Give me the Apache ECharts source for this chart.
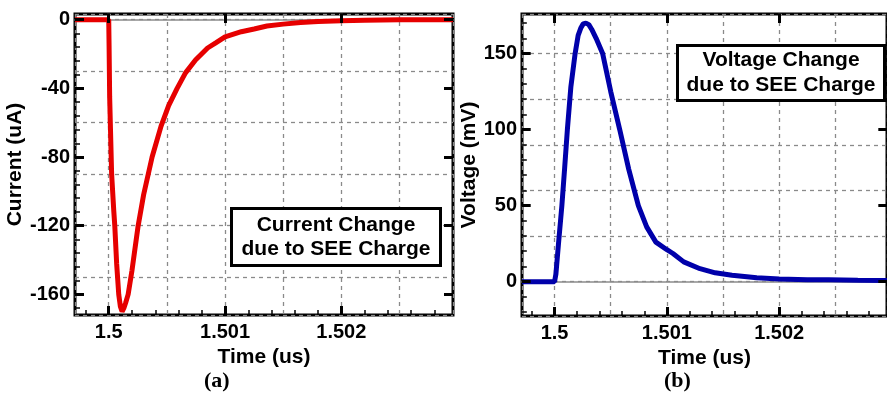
<!DOCTYPE html>
<html><head><meta charset="utf-8">
<script src="https://cdn.jsdelivr.net/npm/echarts@6/dist/echarts.min.js"></script>
<style>html,body{margin:0;padding:0;background:#fff}#c{width:887px;height:394px}</style>
</head><body><div id="c"></div>
<script>
// ---- data ----
const timeCurrent = [1.49971, 1.4999, 1.5, 1.500003, 1.500008, 1.500025, 1.500043, 1.500052, 1.500068, 1.500086, 1.5001, 1.500115, 1.50013, 1.500145, 1.500167, 1.5002, 1.500253, 1.5003, 1.500373, 1.50045, 1.500515, 1.500588, 1.50066, 1.500746, 1.50085, 1.50092, 1.501, 1.50114, 1.50125, 1.50136, 1.5015, 1.50165, 1.5018, 1.502, 1.5022, 1.5025, 1.5028, 1.50296];
const current = [0, 0, 0, -15, -45, -90, -111, -120, -142, -160, -167, -170, -168, -165, -160, -146, -120, -102, -80, -62, -50, -40, -31, -23.5, -16.5, -13.5, -10, -7, -5.4, -3.7, -2.6, -1.7, -1.1, -0.6, -0.3, -0.1, 0, 0];
const timeVoltage = [1.49971, 1.4999, 1.5, 1.500012, 1.500035, 1.500065, 1.50009, 1.500114, 1.500145, 1.500183, 1.50021, 1.500235, 1.500255, 1.500279, 1.500305, 1.50033, 1.50037, 1.500428, 1.5005, 1.50058, 1.50066, 1.500746, 1.50082, 1.500902, 1.501, 1.501054, 1.50115, 1.501295, 1.50143, 1.50158, 1.5018, 1.502, 1.50225, 1.50244, 1.5027, 1.50296];
const voltage = [0, 0, 0, 5, 25, 50, 75, 100, 128, 150, 162, 167, 169.5, 170, 169, 166, 160, 150, 125, 100, 74, 50, 36, 26, 21, 18.5, 13, 8.5, 5.8, 4.2, 2.6, 1.7, 1.3, 1.2, 0.9, 0.8];

const xMajorTicks = [1.5, 1.501, 1.502];
const xMinorTicks = [1.4998, 1.5002, 1.5004, 1.5006, 1.5008, 1.5012, 1.5014, 1.5016, 1.5018, 1.5022, 1.5024, 1.5026, 1.5028];
const currentTicks = [0, -40, -80, -120, -160];
const currentMinorTicks = [-8, -16, -24, -32, -48, -56, -64, -72, -88, -96, -104, -112, -128, -136, -144, -152, -168];
const voltageTicks = [0, 50, 100, 150];
const voltageMinorTicks = [-20, -10, 10, 20, 30, 40, 60, 70, 80, 90, 110, 120, 130, 140, 160, 170];

const xRange = [1.49971, 1.50296];
const currentRange = [-172, 3.3];
const voltageRange = [-22.6, 176];

const FONT = 'Liberation Sans';
const GRID_W = 378, GRID_H = [301, 302];

function mainAxis(gi, range, ticks, name, gap, isX) {
  return {
    gridIndex: gi, type: 'value', position: isX ? 'bottom' : 'left', min: range[0], max: range[1],
    axisLine: {show: false, onZero: false},
    axisTick: {show: false},
    axisLabel: {customValues: ticks, color: '#000', fontFamily: FONT, fontWeight: 'bold', fontSize: 20, margin: isX ? 7 : 5},
    splitLine: {show: true, lineStyle: {color: '#8a8a8a', type: [4, 4], width: 1.3}},
    name: name, nameLocation: 'middle', nameGap: gap,
    nameTextStyle: {color: '#000', fontFamily: FONT, fontWeight: 'bold', fontSize: 21}
  };
}
function zeroAxis(gi, yIdx) {
  return {gridIndex: gi, type: 'value', position: 'bottom', min: xRange[0], max: xRange[1],
    axisLine: {show: true, onZero: true, onZeroAxisIndex: yIdx, lineStyle: {color: '#8c8c8c', width: 1.5}},
    axisTick: {show: false}, axisLabel: {show: false}, splitLine: {show: false}};
}
// tick marks drawn in data space through the series' own axes
function tickMarks(xr, yr, hPx, yMaj, yMin) {
  const dx = (xr[1] - xr[0]) / GRID_W, dy = (yr[1] - yr[0]) / hPx;
  const seg = (a, b, w) => [{coord: a, lineStyle: {width: w, color: '#000', type: 'solid'}}, {coord: b}];
  const out = [];
  xMajorTicks.forEach(x => { out.push(seg([x, yr[0]], [x, yr[0] + 9 * dy], 3)); out.push(seg([x, yr[1]], [x, yr[1] - 9 * dy], 3)); });
  xMinorTicks.forEach(x => out.push(seg([x, yr[0]], [x, yr[0] + 5 * dy], 1.5)));
  yMaj.forEach(y => { out.push(seg([xr[0], y], [xr[0] + 9 * dx, y], 3)); out.push(seg([xr[1], y], [xr[1] - 9 * dx, y], 3)); });
  yMin.forEach(y => out.push(seg([xr[0], y], [xr[0] + 5 * dx, y], 1.5)));
  return {silent: true, animation: false, symbol: ['none', 'none'], label: {show: false}, emphasis: {disabled: true},
          lineStyle: {color: '#000', type: 'solid'}, data: out};
}
function zip(a, b) { return a.map((v, i) => [v, b[i]]); }
function boxTitle(text, left, top, w, lh, pad) {
  return {text: '{c|' + text.join('}\n{c|') + '}', left: left, top: top, padding: pad,
    borderWidth: 3, borderColor: '#000', backgroundColor: '#fff', z: 20,
    textStyle: {rich: {c: {width: w, align: 'center', lineHeight: lh, fontFamily: FONT, fontWeight: 'bold', fontSize: 21, color: '#000'}}}};
}
function panelTitle(letter, left) {
  return {text: '{p|(}{b|' + letter + '}{p|)}', left: left, top: 370, padding: 0,
    textStyle: {rich: {p: {fontFamily: 'Liberation Serif', fontSize: 22, color: '#000'}, b: {fontFamily: 'Liberation Serif', fontWeight: 'bold', fontSize: 22, color: '#000'}}}};
}

const chart = echarts.init(document.getElementById('c'));
chart.setOption({
  animation: false,
  title: [
    boxTitle(['Current Change', 'due to SEE Charge'], 231, 207, 190, 24, [6, 10]),
    boxTitle(['Voltage Change', 'due to SEE Charge'], 678, 43, 188, 25, [5, 9]),
    panelTitle('a', 204),
    panelTitle('b', 664)
  ],
  grid: [
    {left: 75, top: 14, width: GRID_W, height: GRID_H[0], show: true, borderColor: '#000', borderWidth: 3},
    {left: 522, top: 14, width: GRID_W, height: GRID_H[1], show: true, borderColor: '#000', borderWidth: 3}
  ],
  xAxis: [
    mainAxis(0, xRange, xMajorTicks, 'Time (us)', 26, true),
    mainAxis(1, xRange, xMajorTicks, 'Time (us)', 26, true),
    zeroAxis(0, 0),
    zeroAxis(1, 1)
  ],
  yAxis: [
    mainAxis(0, currentRange, currentTicks, 'Current (uA)', 44, false),
    mainAxis(1, voltageRange, voltageTicks, 'Voltage (mV)', 41, false)
  ],
  series: [
    {type: 'line', xAxisIndex: 0, yAxisIndex: 0, data: zip(timeCurrent, current), showSymbol: false,
     lineStyle: {color: '#e60000', width: 5}, itemStyle: {color: '#e60000'},
     markLine: tickMarks(xRange, currentRange, GRID_H[0], currentTicks, currentMinorTicks)},
    {type: 'line', xAxisIndex: 1, yAxisIndex: 1, data: zip(timeVoltage, voltage), showSymbol: false,
     lineStyle: {color: '#0000aa', width: 5}, itemStyle: {color: '#0000aa'},
     markLine: tickMarks(xRange, voltageRange, GRID_H[1], voltageTicks, voltageMinorTicks)}
  ]
});
</script></body></html>
